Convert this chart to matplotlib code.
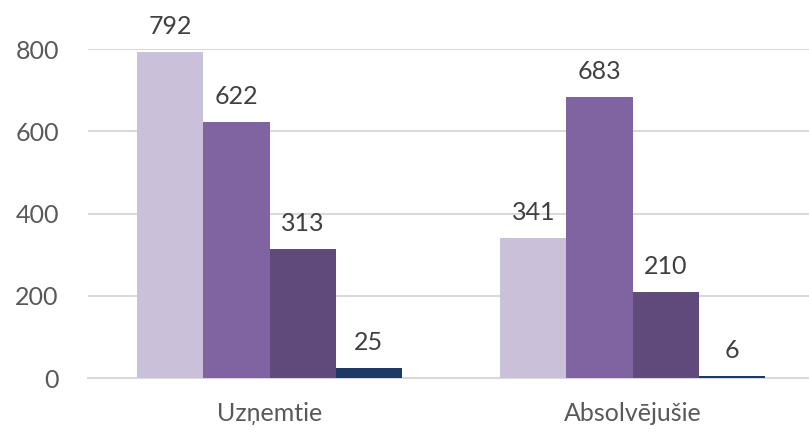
import matplotlib.pyplot as plt
import numpy as np

categories = ["Uzņemtie", "Absolvējušie"]
series_values = [
    [792, 341],
    [622, 683],
    [313, 210],
    [25, 6],
]
colors = ["#CAC0DA", "#8064A2", "#604A7B", "#1F3864"]
yticks = [0, 200, 400, 600, 800]

plt.rcParams['font.family'] = ['Lato', 'DejaVu Sans']

fig = plt.figure(figsize=(8.09, 4.33), dpi=100)
ax = fig.add_axes([88 / 809, (433 - 378) / 433, (814 - 88) / 809, (378 - 49) / 433])

x = np.arange(len(categories))
w = 0.182
for i, vals in enumerate(series_values):
    pos = x + (i - 1.5) * w
    bars = ax.bar(pos, vals, width=w, color=colors[i], zorder=3)
    for b, v in zip(bars, vals):
        ax.annotate(str(v), (b.get_x() + b.get_width() / 2, v),
                    xytext=(0, 10), textcoords="offset points",
                    ha="center", va="bottom", fontsize=18, color="#404040")

ax.set_xlim(-0.5, 1.5)
ax.set_ylim(0, 800)
ax.set_yticks(yticks)
ax.set_xticks(x)
ax.set_xticklabels(categories)
ax.grid(axis="y", color="#D9D9D9", linewidth=1.5, zorder=0)
for s in ["top", "right", "left"]:
    ax.spines[s].set_visible(False)
ax.spines["bottom"].set_color("#D9D9D9")
ax.spines["bottom"].set_linewidth(1.5)
ax.tick_params(axis="both", length=0, labelsize=18, labelcolor="#595959")
ax.tick_params(axis="y", pad=21)
ax.tick_params(axis="x", pad=17)

fig.savefig("out.png", dpi=100)
